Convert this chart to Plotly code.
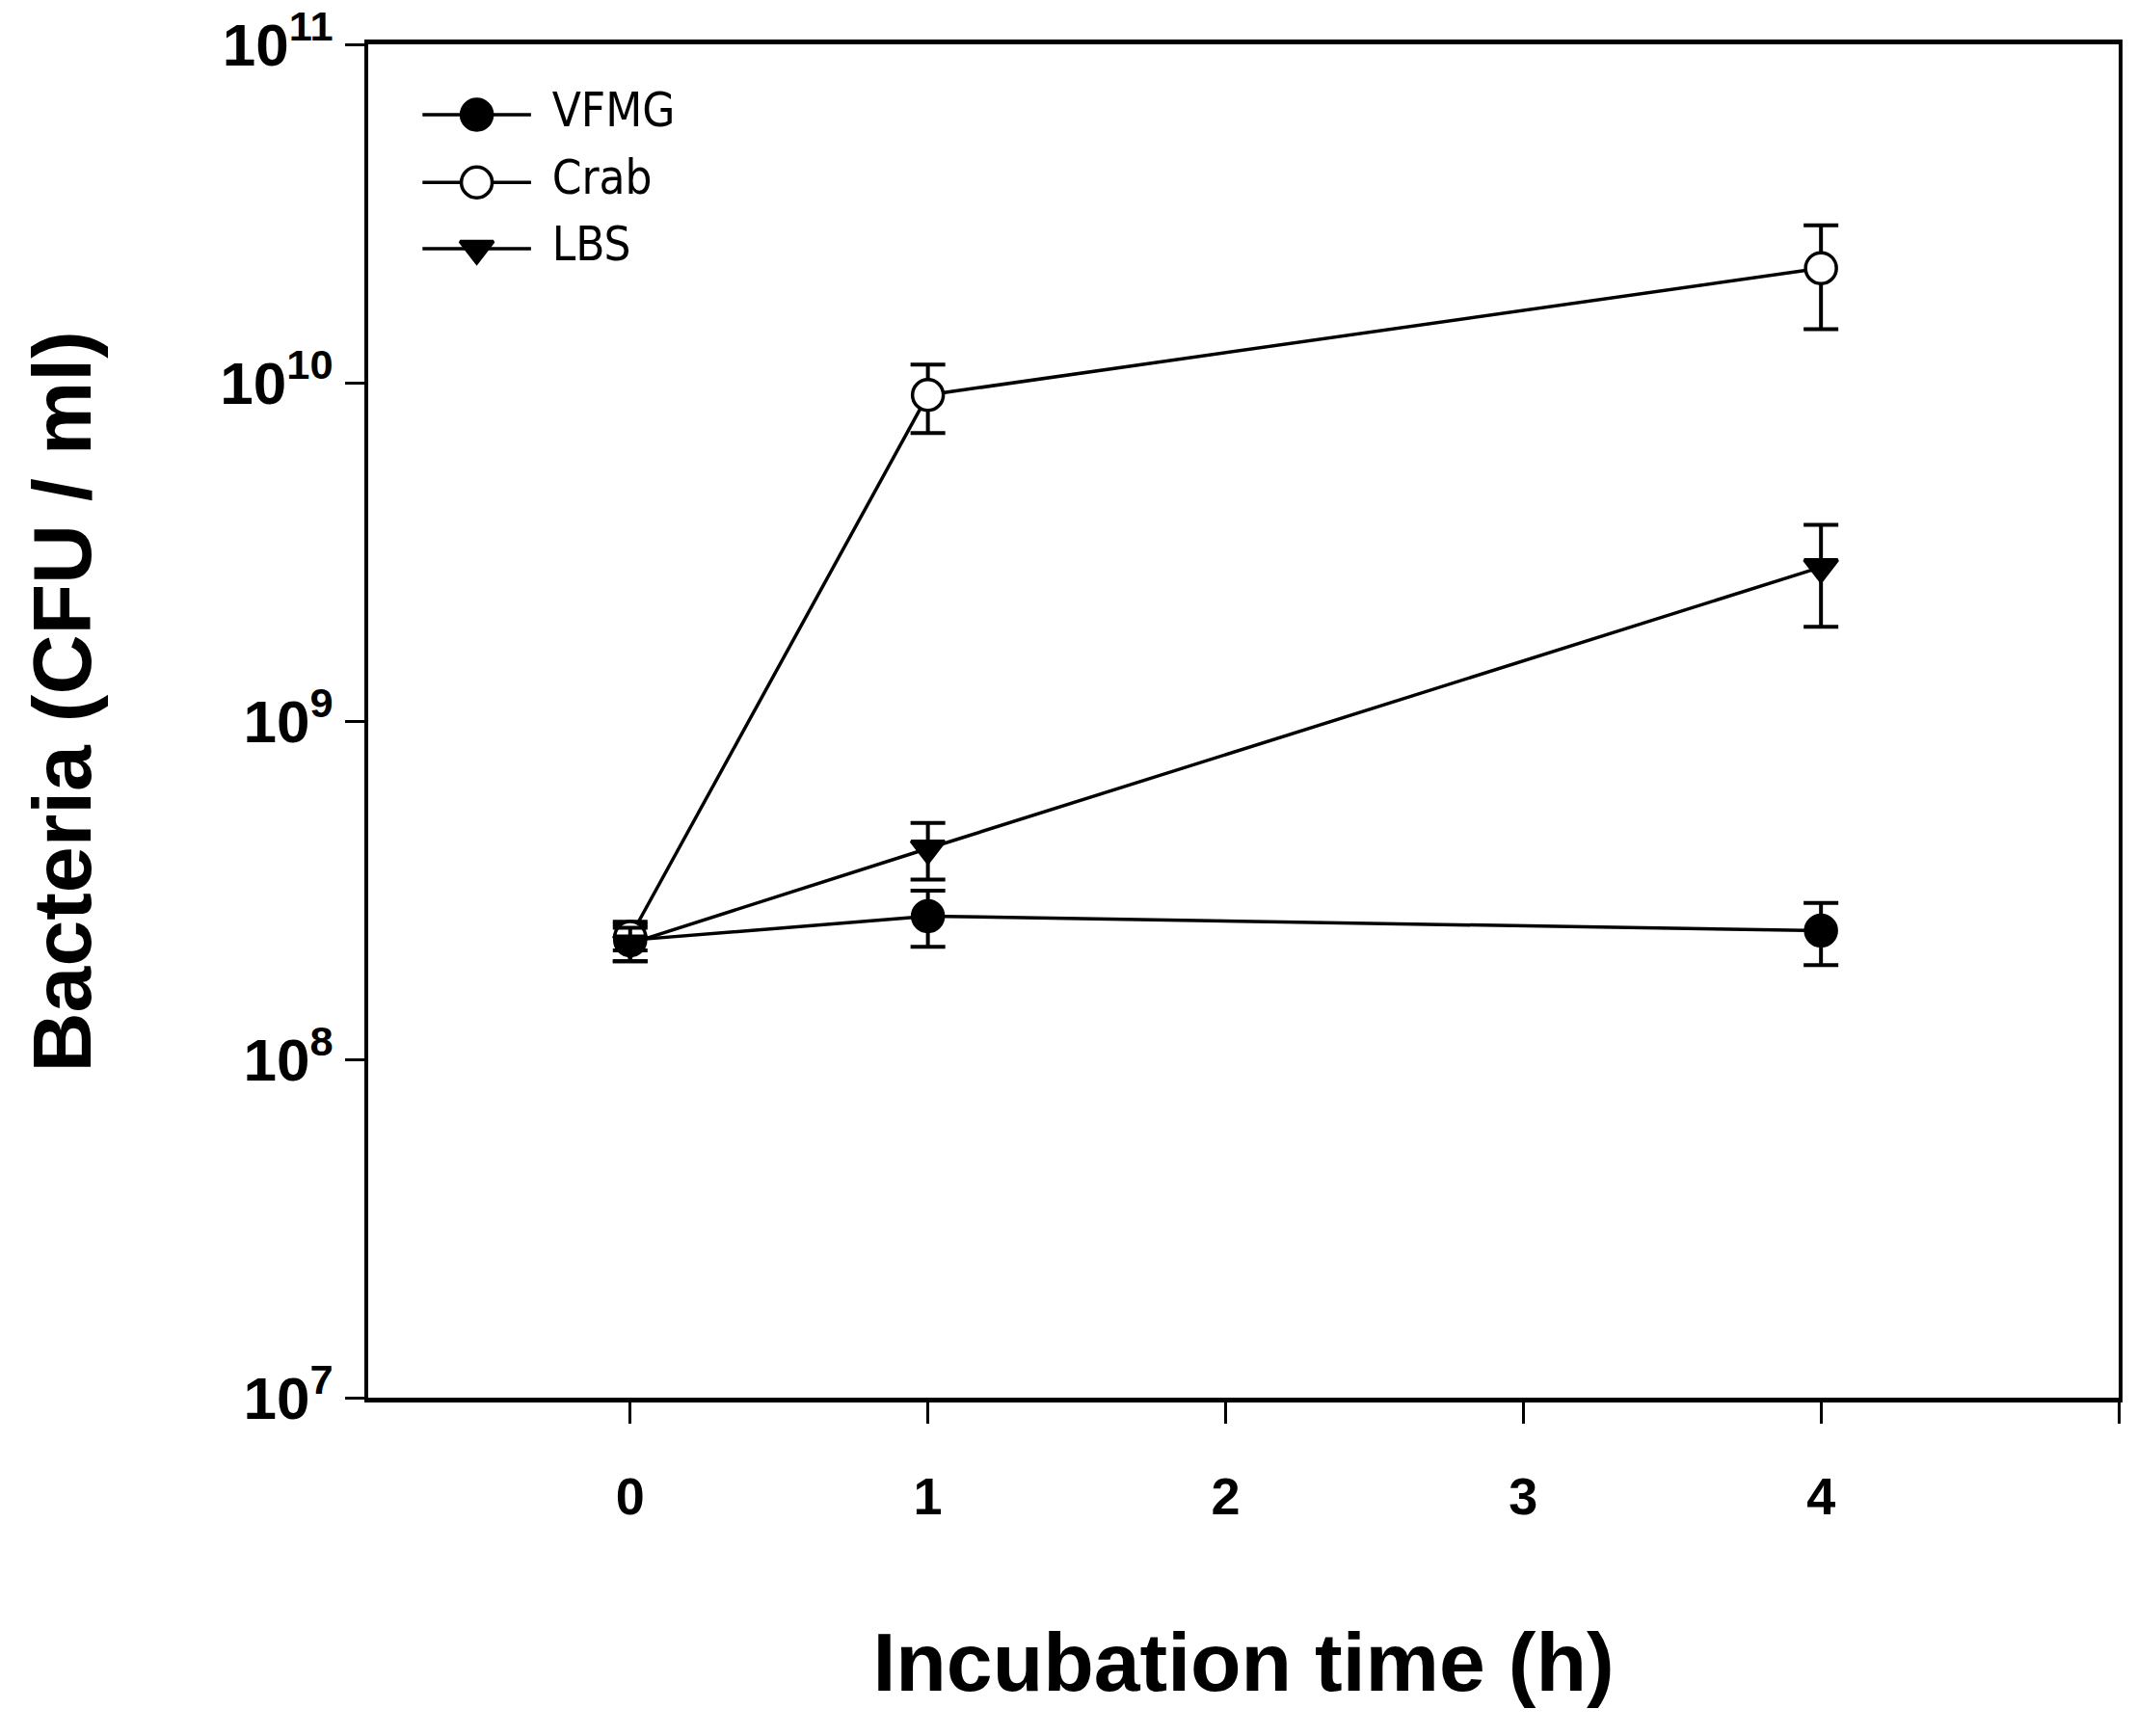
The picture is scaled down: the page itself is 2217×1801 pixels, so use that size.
import plotly.graph_objects as go

##### Data #####
times = [0, 1, 4]

series_names = ['VFMG', 'Crab', 'LBS']
vfmg_cfu = [2.25e8, 2.65e8, 2.40e8]
vfmg_err = [0.30e8, 0.50e8, 0.50e8]
crab_cfu = [2.30e8, 9.20e9, 2.18e10]
crab_err = [0.20e8, 2.10e9, 7.40e9]
lbs_cfu = [2.20e8, 4.20e8, 2.85e9]
lbs_err = [0.25e8, 0.80e8, 0.95e9]

x_ticks = [0, 1, 2, 3, 4, 5]
x_ticktext = ['0', '1', '2', '3', '4', '']
y_ticks = [1e7, 1e8, 1e9, 1e10, 1e11]
y_ticktext = ['10<sup>7</sup>', '10<sup>8</sup>', '10<sup>9</sup>', '10<sup>10</sup>', '10<sup>11</sup>']

##### Styles #####
FONT = 'Liberation Sans, Arial, sans-serif'
LEGEND_FONT = 'DejaVu Sans Condensed, DejaVu Sans, sans-serif'
symbols = ['circle', 'circle', 'triangle-down']
fills = ['black', 'white', 'black']
values = [vfmg_cfu, crab_cfu, lbs_cfu]
errors = [vfmg_err, crab_err, lbs_err]

def marker_style(sym, fill):
    return dict(symbol=sym, size=32 if sym == 'circle' else 30, color=fill,
                line=dict(color='black', width=3.5))

fig = go.Figure()

for name, y, err, sym, fill in zip(series_names, values, errors, symbols, fills):
    fig.add_trace(go.Scatter(
        x=times, y=y, name=name, mode='lines+markers',
        line=dict(color='black', width=3.5),
        marker=marker_style(sym, fill),
        error_y=dict(type='data', array=err, visible=True, color='black',
                     thickness=4, width=18),
        showlegend=False,
    ))

# hand-made legend on an overlay axis (so marker sizes match the plot)
legend_rows = [0.948, 0.898, 0.849]
for name, sym, fill, ry in zip(series_names, symbols, fills, legend_rows):
    fig.add_trace(go.Scatter(
        x=[0.031, 0.093], y=[ry, ry], mode='lines',
        line=dict(color='black', width=3.5),
        xaxis='x2', yaxis='y2', showlegend=False, hoverinfo='skip',
    ))
    fig.add_trace(go.Scatter(
        x=[0.062], y=[ry], mode='markers',
        marker=marker_style(sym, fill),
        xaxis='x2', yaxis='y2', showlegend=False, hoverinfo='skip',
    ))
    fig.add_trace(go.Scatter(
        x=[0.105], y=[ry], mode='text', text=[name], textposition='middle right',
        textfont=dict(family=LEGEND_FONT, size=49, color='black'),
        xaxis='x2', yaxis='y2', showlegend=False, hoverinfo='skip',
    ))

fig.update_layout(
    width=2217, height=1801,
    margin=dict(l=374, r=27, t=38, b=359, autoexpand=False),
    paper_bgcolor='white', plot_bgcolor='white',
    font=dict(family=FONT, color='black'),
    xaxis=dict(
        range=[-0.88, 5], tickvals=x_ticks, ticktext=x_ticktext,
        ticks='outside', ticklen=22, tickwidth=3, tickcolor='black',
        ticklabelstandoff=29, automargin=False,
        tickfont=dict(family=FONT, size=54, weight='bold'),
        showline=True, linewidth=5, linecolor='black', mirror=True,
        showgrid=False, zeroline=False,
        title=dict(text='Incubation time (h)', standoff=115,
                   font=dict(family=FONT, size=86, weight='bold')),
    ),
    yaxis=dict(
        type='log', range=[7, 11], tickvals=y_ticks, ticktext=y_ticktext,
        ticks='outside', ticklen=20, tickwidth=3, tickcolor='black',
        ticklabeloverflow='allow', automargin=False,
        tickfont=dict(family=FONT, size=62, weight='bold'),
        showline=True, linewidth=4, linecolor='black', mirror=True,
        showgrid=False, zeroline=False,
    ),
    xaxis2=dict(overlaying='x', range=[0, 1], visible=False, fixedrange=True),
    yaxis2=dict(overlaying='y', range=[0, 1], visible=False, fixedrange=True),
    annotations=[dict(
        text='Bacteria (CFU / ml)', textangle=-90, showarrow=False,
        xref='paper', yref='paper', x=-0.175, y=0.514,
        xanchor='center', yanchor='middle',
        font=dict(family=FONT, size=86, weight='bold', color='black'),
    )],
)

fig.write_html('out.html')
